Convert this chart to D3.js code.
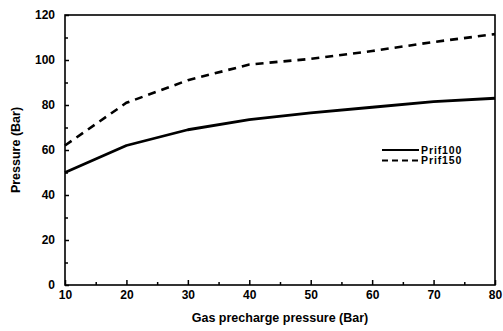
<!DOCTYPE html>
<html>
<head>
<meta charset="utf-8">
<script src="https://cdn.jsdelivr.net/npm/d3@7/dist/d3.min.js"></script>
<style>
  html, body { margin: 0; padding: 0; background: #fff; }
  svg { display: block; }
  text { font-family: "Liberation Sans", Arial, sans-serif; font-weight: bold; fill: #000; }
</style>
</head>
<body>
<svg id="chart" width="503" height="331"></svg>
<script>
// Gas precharge pressure (Bar)
const precharge = [10, 20, 30, 40, 50, 60, 70, 80];
// Pressure (Bar) for each series
const prif100 = [50, 62, 69, 73.5, 76.5, 79, 81.5, 83];
const prif150 = [62, 81, 91, 98, 100.5, 104, 108, 111.5];
const seriesNames = ["Prif100", "Prif150"];
const xTicks = [10, 20, 30, 40, 50, 60, 70, 80];
const yTicks = [0, 20, 40, 60, 80, 100, 120];

const svg = d3.select("#chart");
const m = { left: 65, top: 15, right: 495, bottom: 285 };

const x = d3.scaleLinear().domain([10, 80]).range([m.left, m.right]);
const y = d3.scaleLinear().domain([0, 120]).range([m.bottom, m.top]);

// frame
svg.append("rect")
  .attr("x", m.left).attr("y", m.top)
  .attr("width", m.right - m.left).attr("height", m.bottom - m.top)
  .attr("fill", "none").attr("stroke", "#000").attr("stroke-width", 1.6);

// x axis: major ticks every 10, minor every 5, pointing inward
const xAxis = svg.append("g").attr("transform", `translate(0,${m.bottom})`);
xAxis.call(d3.axisBottom(x).tickValues(d3.range(15, 80, 10)).tickSize(-3).tickFormat(""));
xAxis.append("g").call(d3.axisBottom(x).tickValues(xTicks).tickSize(-5).tickFormat(d3.format("d")).tickPadding(10));
xAxis.selectAll(".domain").remove();
xAxis.selectAll("line").attr("stroke", "#000").attr("stroke-width", 1.5);
xAxis.selectAll("text").attr("font-size", 12).attr("dy", "0.3em")
  .style("font-family", "'Liberation Sans', Arial, sans-serif").style("font-weight", "bold");

// y axis
const yAxis = svg.append("g").attr("transform", `translate(${m.left},0)`);
yAxis.call(d3.axisLeft(y).tickValues(d3.range(10, 120, 20)).tickSize(-3).tickFormat(""));
yAxis.append("g").call(d3.axisLeft(y).tickValues(yTicks).tickSize(-4).tickFormat(d3.format("d")).tickPadding(10));
yAxis.selectAll(".domain").remove();
yAxis.selectAll("line").attr("stroke", "#000").attr("stroke-width", 1.5);
yAxis.selectAll("text").attr("font-size", 12)
  .style("font-family", "'Liberation Sans', Arial, sans-serif").style("font-weight", "bold");

// axis titles
svg.append("text")
  .attr("x", (m.left + m.right) / 2).attr("y", 322)
  .attr("text-anchor", "middle").attr("font-size", 12.5)
  .text("Gas precharge pressure (Bar)");
svg.append("text")
  .attr("transform", `translate(20,${(m.top + m.bottom) / 2}) rotate(-90)`)
  .attr("text-anchor", "middle").attr("font-size", 12.5)
  .text("Pressure (Bar)");

// curves
const line = d3.line()
  .x((d, i) => x(precharge[i]))
  .y(d => y(d));

svg.append("path").datum(prif100)
  .attr("d", line).attr("fill", "none")
  .attr("stroke", "#000").attr("stroke-width", 2.8)
  .attr("stroke-linejoin", "round");
svg.append("path").datum(prif150)
  .attr("d", line).attr("fill", "none")
  .attr("stroke", "#000").attr("stroke-width", 2.6)
  .attr("stroke-dasharray", "8,6");

// legend
const legend = svg.append("g");
const styles = [null, "6,4"];
seriesNames.forEach((name, i) => {
  const ly = 150 + i * 10.5;
  legend.append("line")
    .attr("x1", 382).attr("x2", 419).attr("y1", ly).attr("y2", ly)
    .attr("stroke", "#000").attr("stroke-width", 1.8)
    .attr("stroke-dasharray", styles[i]);
  legend.append("text")
    .attr("x", 421).attr("y", ly + 3.5)
    .attr("font-size", 10.5)
    .attr("letter-spacing", 0.9)
    .text(name);
});
</script>
</body>
</html>
